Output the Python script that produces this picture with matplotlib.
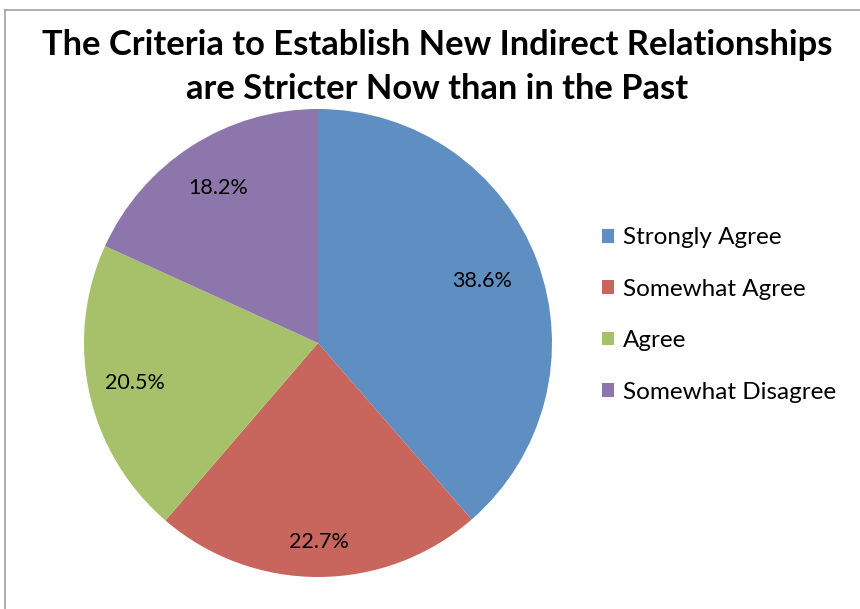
import matplotlib
matplotlib.use("Agg")
import matplotlib.pyplot as plt
from matplotlib.lines import Line2D
import numpy as np

plt.rcParams["font.family"] = ["Lato", "DejaVu Sans"]

# Survey answers
labels = ["Strongly Agree", "Somewhat Agree", "Agree", "Somewhat Disagree"]
shares = [38.6, 22.7, 20.5, 18.2]
colors = ["#5f8ec2", "#c8655c", "#a6c16a", "#8d76ab"]
title = "The Criteria to Establish New Indirect Relationships\nare Stricter Now than in the Past"

W, H = 860, 609
fig = plt.figure(figsize=(W / 100, H / 100), dpi=100)

# chart frame (only left and top edges show)
fig.add_artist(Line2D([5 / W, 5 / W], [0, 1 - 10 / H], color="#a0a0a0", lw=1.2))
fig.add_artist(Line2D([5 / W, 1], [1 - 10 / H, 1 - 10 / H], color="#a0a0a0", lw=1.2))

cx, cy, r = 318, 343, 234
ax = fig.add_axes([(cx - r) / W, (H - cy - r) / H, 2 * r / W, 2 * r / H])
wedges, texts, autotexts = ax.pie(
    shares, colors=colors, startangle=90, counterclock=False,
    autopct="%.1f%%", pctdistance=0.8,
    textprops={"fontsize": 15.5, "color": "black"},
    wedgeprops={"linewidth": 0},
)
# push each percentage label out along its wedge's middle
dists = [0.75, 0.85, 0.80, 0.79]
for w, t, d in zip(wedges, autotexts, dists):
    mid = np.deg2rad((w.theta1 + w.theta2) / 2)
    t.set_position((d * np.cos(mid), d * np.sin(mid)))
ax.set_xlim(-1, 1)
ax.set_ylim(-1, 1)
ax.set_aspect("equal")

fig.text(437 / W, 1 - 67 / H, title, ha="center", va="center",
         fontsize=24.8, fontweight="bold", linespacing=1.45)

fig.legend(wedges, labels, loc="center left", bbox_to_anchor=(580 / W, 1 - 315 / H),
           frameon=False, fontsize=17.5, handlelength=0.5, handleheight=0.5,
           handletextpad=0.35, labelspacing=1.25)

fig.savefig("out.png", dpi=100)
